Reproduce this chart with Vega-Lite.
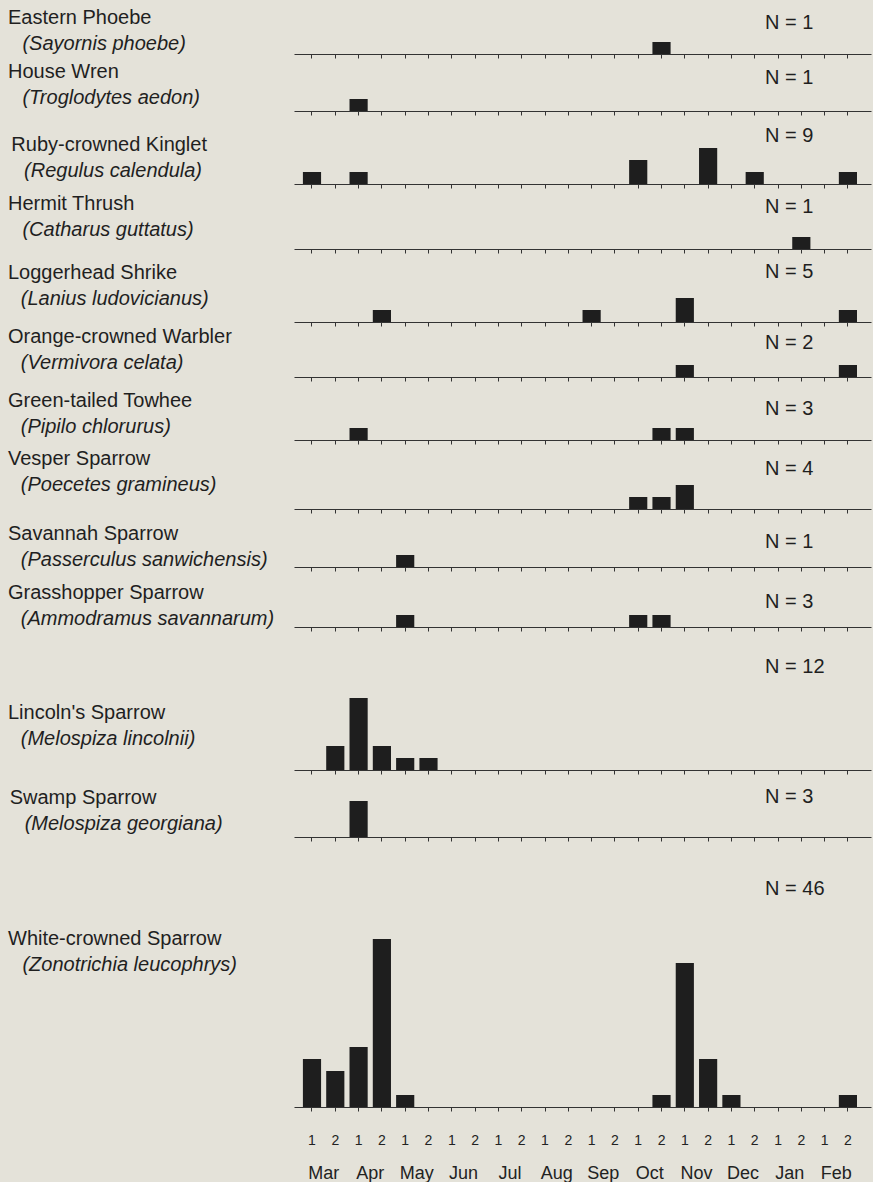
{
  "$schema": "https://vega.github.io/schema/vega-lite/v6.json",
  "background": "#e4e2d9",
  "padding": {"left": 8, "top": 8, "right": 2, "bottom": 0},
  "spacing": 0,
  "bounds": "flush",
  "config": {
    "view": {"stroke": null},
    "axisX": {"labels": false, "tickSize": 4, "title": null, "grid": false, "domainColor": "#333333", "tickColor": "#333333", "labelColor": "#222222", "labelFont": "Liberation Sans", "labelAngle": 0, "labelOverlap": false},
    "title": {"anchor": "start", "orient": "bottom", "frame": "group", "dx": -286, "font": "Liberation Sans", "fontSize": 20, "fontWeight": "normal", "color": "#1f1f1f", "subtitleFont": "Liberation Sans", "subtitleFontSize": 20, "subtitleFontStyle": "italic", "subtitleColor": "#1f1f1f", "subtitlePadding": 6},
    "text": {"font": "Liberation Sans", "fontSize": 20, "color": "#1f1f1f"},
    "bar": {"color": "#1e1e1e"}
  },
  "datasets": {
    "obs": [
      {"species": "Eastern Phoebe", "period": "Oct2", "count": 1},
      {"species": "House Wren", "period": "Apr1", "count": 1},
      {"species": "Ruby-crowned Kinglet", "period": "Mar1", "count": 1},
      {"species": "Ruby-crowned Kinglet", "period": "Apr1", "count": 1},
      {"species": "Ruby-crowned Kinglet", "period": "Oct1", "count": 2},
      {"species": "Ruby-crowned Kinglet", "period": "Nov2", "count": 3},
      {"species": "Ruby-crowned Kinglet", "period": "Dec2", "count": 1},
      {"species": "Ruby-crowned Kinglet", "period": "Feb2", "count": 1},
      {"species": "Hermit Thrush", "period": "Jan2", "count": 1},
      {"species": "Loggerhead Shrike", "period": "Apr2", "count": 1},
      {"species": "Loggerhead Shrike", "period": "Sep1", "count": 1},
      {"species": "Loggerhead Shrike", "period": "Nov1", "count": 2},
      {"species": "Loggerhead Shrike", "period": "Feb2", "count": 1},
      {"species": "Orange-crowned Warbler", "period": "Nov1", "count": 1},
      {"species": "Orange-crowned Warbler", "period": "Feb2", "count": 1},
      {"species": "Green-tailed Towhee", "period": "Apr1", "count": 1},
      {"species": "Green-tailed Towhee", "period": "Oct2", "count": 1},
      {"species": "Green-tailed Towhee", "period": "Nov1", "count": 1},
      {"species": "Vesper Sparrow", "period": "Oct1", "count": 1},
      {"species": "Vesper Sparrow", "period": "Oct2", "count": 1},
      {"species": "Vesper Sparrow", "period": "Nov1", "count": 2},
      {"species": "Savannah Sparrow", "period": "May1", "count": 1},
      {"species": "Grasshopper Sparrow", "period": "May1", "count": 1},
      {"species": "Grasshopper Sparrow", "period": "Oct1", "count": 1},
      {"species": "Grasshopper Sparrow", "period": "Oct2", "count": 1},
      {"species": "Lincoln's Sparrow", "period": "Mar2", "count": 2},
      {"species": "Lincoln's Sparrow", "period": "Apr1", "count": 6},
      {"species": "Lincoln's Sparrow", "period": "Apr2", "count": 2},
      {"species": "Lincoln's Sparrow", "period": "May1", "count": 1},
      {"species": "Lincoln's Sparrow", "period": "May2", "count": 1},
      {"species": "Swamp Sparrow", "period": "Apr1", "count": 3},
      {"species": "White-crowned Sparrow", "period": "Mar1", "count": 4},
      {"species": "White-crowned Sparrow", "period": "Mar2", "count": 3},
      {"species": "White-crowned Sparrow", "period": "Apr1", "count": 5},
      {"species": "White-crowned Sparrow", "period": "Apr2", "count": 14},
      {"species": "White-crowned Sparrow", "period": "May1", "count": 1},
      {"species": "White-crowned Sparrow", "period": "Oct2", "count": 1},
      {"species": "White-crowned Sparrow", "period": "Nov1", "count": 12},
      {"species": "White-crowned Sparrow", "period": "Nov2", "count": 4},
      {"species": "White-crowned Sparrow", "period": "Dec1", "count": 1},
      {"species": "White-crowned Sparrow", "period": "Feb2", "count": 1}
    ]
  },
  "vconcat": [
    {
      "width": 577, "height": 46,
      "title": {"text": "Eastern Phoebe", "subtitle": "\u200b\u00a0\u00a0\u200a\u200a(Sayornis phoebe)", "offset": -50.5},
      "layer": [
        {"data": {"name": "obs"}, "transform": [{"filter": {"field": "species", "equal": "Eastern Phoebe"}}], "mark": "bar",
         "encoding": {"x": {"field": "period", "type": "nominal", "scale": {"domain": ["Mar1","Mar2","Apr1","Apr2","May1","May2","Jun1","Jun2","Jul1","Jul2","Aug1","Aug2","Sep1","Sep2","Oct1","Oct2","Nov1","Nov2","Dec1","Dec2","Jan1","Jan2","Feb1","Feb2"], "paddingInner": 0.22, "paddingOuter": 0.491, "align": 0.389}},
                      "y": {"field": "count", "type": "quantitative", "scale": {"domain": [0, 3.8333], "nice": false}, "axis": null}}},
        {"data": {"values": [{"label": "N = 1"}]}, "mark": {"type": "text", "align": "left", "baseline": "middle", "dx": -13},
         "encoding": {"x": {"datum": "Jan1", "type": "nominal"}, "y": {"datum": 2.6, "type": "quantitative"}, "text": {"field": "label"}}}
      ]
    },
    {
      "width": 577, "height": 57,
      "title": {"text": "House Wren", "subtitle": "\u200b\u00a0\u00a0\u200a\u200a(Troglodytes aedon)", "offset": -53.5},
      "layer": [
        {"data": {"name": "obs"}, "transform": [{"filter": {"field": "species", "equal": "House Wren"}}], "mark": "bar",
         "encoding": {"x": {"field": "period", "type": "nominal", "scale": {"domain": ["Mar1","Mar2","Apr1","Apr2","May1","May2","Jun1","Jun2","Jul1","Jul2","Aug1","Aug2","Sep1","Sep2","Oct1","Oct2","Nov1","Nov2","Dec1","Dec2","Jan1","Jan2","Feb1","Feb2"], "paddingInner": 0.22, "paddingOuter": 0.491, "align": 0.389}},
                      "y": {"field": "count", "type": "quantitative", "scale": {"domain": [0, 4.75], "nice": false}, "axis": null}}},
        {"data": {"values": [{"label": "N = 1"}]}, "mark": {"type": "text", "align": "left", "baseline": "middle", "dx": -13},
         "encoding": {"x": {"datum": "Jan1", "type": "nominal"}, "y": {"datum": 2.72, "type": "quantitative"}, "text": {"field": "label"}}}
      ]
    },
    {
      "width": 577, "height": 73,
      "title": {"text": "\u200b\u200a\u200aRuby-crowned Kinglet", "subtitle": "\u200b\u00a0\u00a0\u200a\u200a\u200a(Regulus calendula)", "offset": -53.5},
      "layer": [
        {"data": {"name": "obs"}, "transform": [{"filter": {"field": "species", "equal": "Ruby-crowned Kinglet"}}], "mark": "bar",
         "encoding": {"x": {"field": "period", "type": "nominal", "scale": {"domain": ["Mar1","Mar2","Apr1","Apr2","May1","May2","Jun1","Jun2","Jul1","Jul2","Aug1","Aug2","Sep1","Sep2","Oct1","Oct2","Nov1","Nov2","Dec1","Dec2","Jan1","Jan2","Feb1","Feb2"], "paddingInner": 0.22, "paddingOuter": 0.491, "align": 0.389}},
                      "y": {"field": "count", "type": "quantitative", "scale": {"domain": [0, 6.0833], "nice": false}, "axis": null}}},
        {"data": {"values": [{"label": "N = 9"}]}, "mark": {"type": "text", "align": "left", "baseline": "middle", "dx": -13},
         "encoding": {"x": {"datum": "Jan1", "type": "nominal"}, "y": {"datum": 4.0, "type": "quantitative"}, "text": {"field": "label"}}}
      ]
    },
    {
      "width": 577, "height": 65,
      "title": {"text": "Hermit Thrush", "subtitle": "\u200b\u00a0\u00a0\u200a\u200a(Catharus guttatus)", "offset": -60},
      "layer": [
        {"data": {"name": "obs"}, "transform": [{"filter": {"field": "species", "equal": "Hermit Thrush"}}], "mark": "bar",
         "encoding": {"x": {"field": "period", "type": "nominal", "scale": {"domain": ["Mar1","Mar2","Apr1","Apr2","May1","May2","Jun1","Jun2","Jul1","Jul2","Aug1","Aug2","Sep1","Sep2","Oct1","Oct2","Nov1","Nov2","Dec1","Dec2","Jan1","Jan2","Feb1","Feb2"], "paddingInner": 0.22, "paddingOuter": 0.491, "align": 0.389}},
                      "y": {"field": "count", "type": "quantitative", "scale": {"domain": [0, 5.4167], "nice": false}, "axis": null}}},
        {"data": {"values": [{"label": "N = 1"}]}, "mark": {"type": "text", "align": "left", "baseline": "middle", "dx": -13},
         "encoding": {"x": {"datum": "Jan1", "type": "nominal"}, "y": {"datum": 3.53, "type": "quantitative"}, "text": {"field": "label"}}}
      ]
    },
    {
      "width": 577, "height": 73,
      "title": {"text": "Loggerhead Shrike", "subtitle": "\u200b\u00a0\u00a0\u200a(Lanius ludovicianus)", "offset": -64},
      "layer": [
        {"data": {"name": "obs"}, "transform": [{"filter": {"field": "species", "equal": "Loggerhead Shrike"}}], "mark": "bar",
         "encoding": {"x": {"field": "period", "type": "nominal", "scale": {"domain": ["Mar1","Mar2","Apr1","Apr2","May1","May2","Jun1","Jun2","Jul1","Jul2","Aug1","Aug2","Sep1","Sep2","Oct1","Oct2","Nov1","Nov2","Dec1","Dec2","Jan1","Jan2","Feb1","Feb2"], "paddingInner": 0.22, "paddingOuter": 0.491, "align": 0.389}},
                      "y": {"field": "count", "type": "quantitative", "scale": {"domain": [0, 6.0833], "nice": false}, "axis": null}}},
        {"data": {"values": [{"label": "N = 5"}]}, "mark": {"type": "text", "align": "left", "baseline": "middle", "dx": -13},
         "encoding": {"x": {"datum": "Jan1", "type": "nominal"}, "y": {"datum": 4.19, "type": "quantitative"}, "text": {"field": "label"}}}
      ]
    },
    {
      "width": 577, "height": 55,
      "title": {"text": "Orange-crowned Warbler", "subtitle": "\u200b\u00a0\u00a0\u200a(Vermivora celata)", "offset": -55},
      "layer": [
        {"data": {"name": "obs"}, "transform": [{"filter": {"field": "species", "equal": "Orange-crowned Warbler"}}], "mark": "bar",
         "encoding": {"x": {"field": "period", "type": "nominal", "scale": {"domain": ["Mar1","Mar2","Apr1","Apr2","May1","May2","Jun1","Jun2","Jul1","Jul2","Aug1","Aug2","Sep1","Sep2","Oct1","Oct2","Nov1","Nov2","Dec1","Dec2","Jan1","Jan2","Feb1","Feb2"], "paddingInner": 0.22, "paddingOuter": 0.491, "align": 0.389}},
                      "y": {"field": "count", "type": "quantitative", "scale": {"domain": [0, 4.5833], "nice": false}, "axis": null}}},
        {"data": {"values": [{"label": "N = 2"}]}, "mark": {"type": "text", "align": "left", "baseline": "middle", "dx": -13},
         "encoding": {"x": {"datum": "Jan1", "type": "nominal"}, "y": {"datum": 2.81, "type": "quantitative"}, "text": {"field": "label"}}}
      ]
    },
    {
      "width": 577, "height": 63,
      "title": {"text": "Green-tailed Towhee", "subtitle": "\u200b\u00a0\u00a0\u200a(Pipilo chlorurus)", "offset": -54},
      "layer": [
        {"data": {"name": "obs"}, "transform": [{"filter": {"field": "species", "equal": "Green-tailed Towhee"}}], "mark": "bar",
         "encoding": {"x": {"field": "period", "type": "nominal", "scale": {"domain": ["Mar1","Mar2","Apr1","Apr2","May1","May2","Jun1","Jun2","Jul1","Jul2","Aug1","Aug2","Sep1","Sep2","Oct1","Oct2","Nov1","Nov2","Dec1","Dec2","Jan1","Jan2","Feb1","Feb2"], "paddingInner": 0.22, "paddingOuter": 0.491, "align": 0.389}},
                      "y": {"field": "count", "type": "quantitative", "scale": {"domain": [0, 5.25], "nice": false}, "axis": null}}},
        {"data": {"values": [{"label": "N = 3"}]}, "mark": {"type": "text", "align": "left", "baseline": "middle", "dx": -13},
         "encoding": {"x": {"datum": "Jan1", "type": "nominal"}, "y": {"datum": 2.56, "type": "quantitative"}, "text": {"field": "label"}}}
      ]
    },
    {
      "width": 577, "height": 69,
      "title": {"text": "Vesper Sparrow", "subtitle": "\u200b\u00a0\u00a0\u200a(Poecetes gramineus)", "offset": -65},
      "layer": [
        {"data": {"name": "obs"}, "transform": [{"filter": {"field": "species", "equal": "Vesper Sparrow"}}], "mark": "bar",
         "encoding": {"x": {"field": "period", "type": "nominal", "scale": {"domain": ["Mar1","Mar2","Apr1","Apr2","May1","May2","Jun1","Jun2","Jul1","Jul2","Aug1","Aug2","Sep1","Sep2","Oct1","Oct2","Nov1","Nov2","Dec1","Dec2","Jan1","Jan2","Feb1","Feb2"], "paddingInner": 0.22, "paddingOuter": 0.491, "align": 0.389}},
                      "y": {"field": "count", "type": "quantitative", "scale": {"domain": [0, 5.75], "nice": false}, "axis": null}}},
        {"data": {"values": [{"label": "N = 4"}]}, "mark": {"type": "text", "align": "left", "baseline": "middle", "dx": -13},
         "encoding": {"x": {"datum": "Jan1", "type": "nominal"}, "y": {"datum": 3.31, "type": "quantitative"}, "text": {"field": "label"}}}
      ]
    },
    {
      "width": 577, "height": 58,
      "title": {"text": "Savannah Sparrow", "subtitle": "\u200b\u00a0\u00a0\u200a(Passerculus sanwichensis)", "offset": -48},
      "layer": [
        {"data": {"name": "obs"}, "transform": [{"filter": {"field": "species", "equal": "Savannah Sparrow"}}], "mark": "bar",
         "encoding": {"x": {"field": "period", "type": "nominal", "scale": {"domain": ["Mar1","Mar2","Apr1","Apr2","May1","May2","Jun1","Jun2","Jul1","Jul2","Aug1","Aug2","Sep1","Sep2","Oct1","Oct2","Nov1","Nov2","Dec1","Dec2","Jan1","Jan2","Feb1","Feb2"], "paddingInner": 0.22, "paddingOuter": 0.491, "align": 0.389}},
                      "y": {"field": "count", "type": "quantitative", "scale": {"domain": [0, 4.8333], "nice": false}, "axis": null}}},
        {"data": {"values": [{"label": "N = 1"}]}, "mark": {"type": "text", "align": "left", "baseline": "middle", "dx": -13},
         "encoding": {"x": {"datum": "Jan1", "type": "nominal"}, "y": {"datum": 2.11, "type": "quantitative"}, "text": {"field": "label"}}}
      ]
    },
    {
      "width": 577, "height": 60,
      "title": {"text": "Grasshopper Sparrow", "subtitle": "\u200b\u00a0\u00a0\u200a(Ammodramus savannarum)", "offset": -49},
      "layer": [
        {"data": {"name": "obs"}, "transform": [{"filter": {"field": "species", "equal": "Grasshopper Sparrow"}}], "mark": "bar",
         "encoding": {"x": {"field": "period", "type": "nominal", "scale": {"domain": ["Mar1","Mar2","Apr1","Apr2","May1","May2","Jun1","Jun2","Jul1","Jul2","Aug1","Aug2","Sep1","Sep2","Oct1","Oct2","Nov1","Nov2","Dec1","Dec2","Jan1","Jan2","Feb1","Feb2"], "paddingInner": 0.22, "paddingOuter": 0.491, "align": 0.389}},
                      "y": {"field": "count", "type": "quantitative", "scale": {"domain": [0, 5.0], "nice": false}, "axis": null}}},
        {"data": {"values": [{"label": "N = 3"}]}, "mark": {"type": "text", "align": "left", "baseline": "middle", "dx": -13},
         "encoding": {"x": {"datum": "Jan1", "type": "nominal"}, "y": {"datum": 2.11, "type": "quantitative"}, "text": {"field": "label"}}}
      ]
    },
    {
      "width": 577, "height": 143,
      "title": {"text": "Lincoln's Sparrow", "subtitle": "\u200b\u00a0\u00a0\u200a(Melospiza lincolnii)", "offset": -72},
      "layer": [
        {"data": {"name": "obs"}, "transform": [{"filter": {"field": "species", "equal": "Lincoln's Sparrow"}}], "mark": "bar",
         "encoding": {"x": {"field": "period", "type": "nominal", "scale": {"domain": ["Mar1","Mar2","Apr1","Apr2","May1","May2","Jun1","Jun2","Jul1","Jul2","Aug1","Aug2","Sep1","Sep2","Oct1","Oct2","Nov1","Nov2","Dec1","Dec2","Jan1","Jan2","Feb1","Feb2"], "paddingInner": 0.22, "paddingOuter": 0.491, "align": 0.389}},
                      "y": {"field": "count", "type": "quantitative", "scale": {"domain": [0, 11.9167], "nice": false}, "axis": null}}},
        {"data": {"values": [{"label": "N = 12"}]}, "mark": {"type": "text", "align": "left", "baseline": "middle", "dx": -13},
         "encoding": {"x": {"datum": "Jan1", "type": "nominal"}, "y": {"datum": 8.61, "type": "quantitative"}, "text": {"field": "label"}}}
      ]
    },
    {
      "width": 577, "height": 67,
      "title": {"text": "\u200b\u200aSwamp Sparrow", "subtitle": "\u200b\u00a0\u00a0\u00a0(Melospiza georgiana)", "offset": -54},
      "layer": [
        {"data": {"name": "obs"}, "transform": [{"filter": {"field": "species", "equal": "Swamp Sparrow"}}], "mark": "bar",
         "encoding": {"x": {"field": "period", "type": "nominal", "scale": {"domain": ["Mar1","Mar2","Apr1","Apr2","May1","May2","Jun1","Jun2","Jul1","Jul2","Aug1","Aug2","Sep1","Sep2","Oct1","Oct2","Nov1","Nov2","Dec1","Dec2","Jan1","Jan2","Feb1","Feb2"], "paddingInner": 0.22, "paddingOuter": 0.491, "align": 0.389}},
                      "y": {"field": "count", "type": "quantitative", "scale": {"domain": [0, 5.5833], "nice": false}, "axis": null}}},
        {"data": {"values": [{"label": "N = 3"}]}, "mark": {"type": "text", "align": "left", "baseline": "middle", "dx": -13},
         "encoding": {"x": {"datum": "Jan1", "type": "nominal"}, "y": {"datum": 3.36, "type": "quantitative"}, "text": {"field": "label"}}}
      ]
    },
    {
      "width": 577, "height": 270,
      "title": {"text": "White-crowned Sparrow", "subtitle": "\u200b\u00a0\u00a0\u200a\u200a(Zonotrichia leucophrys)", "offset": -253},
      "resolve": {"axis": {"x": "independent"}},
      "layer": [
        {"data": {"name": "obs"}, "transform": [{"filter": {"field": "species", "equal": "White-crowned Sparrow"}}], "mark": "bar",
         "encoding": {"x": {"field": "period", "type": "nominal", "scale": {"domain": ["Mar1","Mar2","Apr1","Apr2","May1","May2","Jun1","Jun2","Jul1","Jul2","Aug1","Aug2","Sep1","Sep2","Oct1","Oct2","Nov1","Nov2","Dec1","Dec2","Jan1","Jan2","Feb1","Feb2"], "paddingInner": 0.22, "paddingOuter": 0.491, "align": 0.389},
                            "axis": {"orient": "bottom", "labels": true, "labelExpr": "substring(datum.value, 3)", "labelFontSize": 14, "labelPadding": 22, "tickSize": 4}},
                      "y": {"field": "count", "type": "quantitative", "scale": {"domain": [0, 22.5], "nice": false}, "axis": null}}},
        {"data": {"values": [{"label": "N = 46"}]}, "mark": {"type": "text", "align": "left", "baseline": "middle", "dx": -13},
         "encoding": {"x": {"datum": "Jan1", "type": "nominal",
                            "axis": {"orient": "bottom", "labels": true, "domain": false, "ticks": false, "tickSize": 0, "labelExpr": "substring(datum.value, 3) == '1' ? substring(datum.value, 0, 3) : ''", "labelOffset": 11.65, "labelPadding": 57, "labelFontSize": 18}},
                      "y": {"datum": 18.14, "type": "quantitative"}, "text": {"field": "label"}}}
      ]
    }
  ]
}
